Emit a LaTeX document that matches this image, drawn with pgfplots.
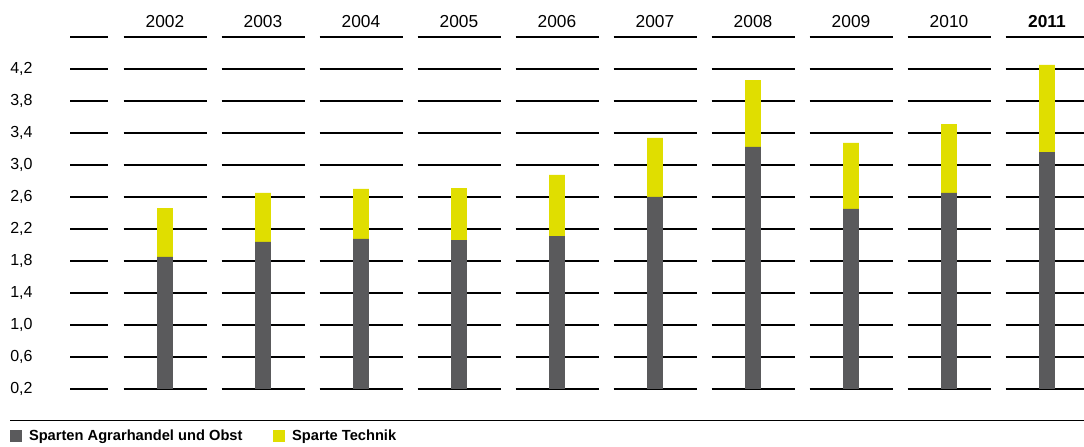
\documentclass[border=0pt]{standalone}
\usepackage{fontspec}
\setmainfont{Liberation Sans}
\usepackage{pgfplots}
\pgfplotsset{compat=1.18}
\definecolor{bardark}{RGB}{90,90,92}
\definecolor{baryellow}{RGB}{224,222,0}
\begin{document}
\begin{tikzpicture}
\begin{axis}[
  set layers=standard,
  scale only axis,
  width=813pt, height=291.75pt,
  xmin=-1.6837, xmax=9.3776,
  ymin=0.2, ymax=5.0625,
  enlargelimits=false,
  clip mode=individual,
  axis line style={draw=none},
  major tick length=0pt,
  xtick=\empty,
  ytick={0.2,0.6,1.0,1.4,1.8,2.2,2.6,3.0,3.4,3.8,4.2},
  /pgf/number format/use comma,
  /pgf/number format/fixed,
  /pgf/number format/fixed zerofill,
  /pgf/number format/precision=1,
  /pgf/number format/assume math mode=true,
  yticklabel style={anchor=west, inner sep=0pt, xshift=7.5pt, font=\fontsize{12}{14}\selectfont},
  ybar stacked,
  bar width=0.163,
  legend columns=2,
  legend image code/.code={\fill[#1] (0pt,-4.5pt) rectangle (9pt,4.5pt);},
  legend style={draw=none, fill=none, inner sep=0pt, outer sep=0pt,
    at={(rel axis cs:0,0)}, anchor=north west, xshift=7.5pt, yshift=-30.85pt,
    nodes={inner sep=0pt, font=\bfseries\fontsize{11}{13}\selectfont},
    /tikz/every odd column/.append style={column sep=5.25pt},
    /tikz/every even column/.append style={column sep=23pt}},
  legend cell align=left,
]
% segmented gridlines (main layer, below the bars)
\pgfplotsinvokeforeach{0.2,0.6,1.0,1.4,1.8,2.2,2.6,3.0,3.4,3.8,4.2,4.6}{
  \draw[black, line width=0.85pt]
    (axis cs:-0.969,#1) -- (axis cs:-0.5816,#1)
    (axis cs:-0.4235,#1) -- (axis cs:0.4235,#1)
    (axis cs:0.5765,#1) -- (axis cs:1.4235,#1)
    (axis cs:1.5765,#1) -- (axis cs:2.4235,#1)
    (axis cs:2.5765,#1) -- (axis cs:3.4235,#1)
    (axis cs:3.5765,#1) -- (axis cs:4.4235,#1)
    (axis cs:4.5765,#1) -- (axis cs:5.4235,#1)
    (axis cs:5.5765,#1) -- (axis cs:6.4235,#1)
    (axis cs:6.5765,#1) -- (axis cs:7.4235,#1)
    (axis cs:7.5765,#1) -- (axis cs:8.4235,#1)
    (axis cs:8.5765,#1) -- (axis cs:9.3776,#1);
}
% Sparten Agrarhandel und Obst
\addplot[fill=bardark, draw=none, on layer=axis foreground] coordinates {
  (0,1.85) (1,2.04) (2,2.075) (3,2.06) (4,2.11)
  (5,2.60) (6,3.225) (7,2.45) (8,2.65) (9,3.16)};
\addlegendentry{Sparten Agrarhandel und Obst}
% Sparte Technik
\addplot[fill=baryellow, draw=none, on layer=axis foreground] coordinates {
  (0,0.61) (1,0.61) (2,0.625) (3,0.65) (4,0.765)
  (5,0.74) (6,0.835) (7,0.825) (8,0.86) (9,1.09)};
\addlegendentry{Sparte Technik}
% bottom rule
\draw[black, line width=0.85pt] (axis cs:-1.5816,-0.194) -- (axis cs:9.3776,-0.194);
% year labels
\node[font=\fontsize{13}{15}\selectfont] at (axis cs:0,4.79) {2002};
\node[font=\fontsize{13}{15}\selectfont] at (axis cs:1,4.79) {2003};
\node[font=\fontsize{13}{15}\selectfont] at (axis cs:2,4.79) {2004};
\node[font=\fontsize{13}{15}\selectfont] at (axis cs:3,4.79) {2005};
\node[font=\fontsize{13}{15}\selectfont] at (axis cs:4,4.79) {2006};
\node[font=\fontsize{13}{15}\selectfont] at (axis cs:5,4.79) {2007};
\node[font=\fontsize{13}{15}\selectfont] at (axis cs:6,4.79) {2008};
\node[font=\fontsize{13}{15}\selectfont] at (axis cs:7,4.79) {2009};
\node[font=\fontsize{13}{15}\selectfont] at (axis cs:8,4.79) {2010};
\node[font=\bfseries\fontsize{13}{15}\selectfont] at (axis cs:9,4.79) {2011};
\end{axis}
\pgfresetboundingbox
\path[use as bounding box] ([yshift=-43.5pt]current axis.south west) rectangle (current axis.north east);
\end{tikzpicture}
\end{document}
